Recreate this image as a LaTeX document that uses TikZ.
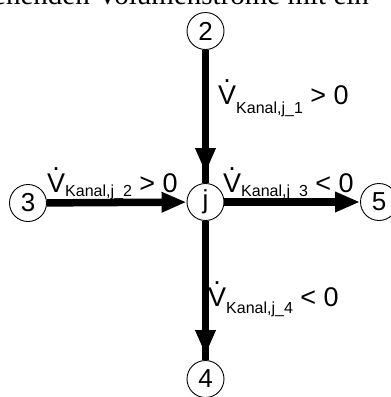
\documentclass[tikz,border=0pt]{standalone}
\usepackage{fontspec}
\setmainfont{Liberation Sans}
\newfontfamily\serifpart{Liberation Serif}
\usetikzlibrary{arrows.meta}
\newcommand\Vd{\ooalign{V\cr\hidewidth\raisebox{0.8em}{.}\hidewidth\cr}}
\newcommand\flowlab[3]{\Vd\raisebox{-#3}{\fontsize{16}{16}\selectfont Kanal,j\_#1} #2 0}
\tikzset{
  pt/.style={circle,draw,line width=0.9pt,minimum size=37pt,inner sep=0pt,font=\fontsize{26}{26}\selectfont},
  pipe/.style={line width=7.5pt},
  pipearrow/.style={line width=7.5pt,-{Triangle[width=19pt,length=25pt]}},
  lab/.style={anchor=base west,inner sep=0pt,font=\fontsize{27}{27}\selectfont},
}
\begin{document}
\begin{tikzpicture}[x=1pt,y=-1pt]
\useasboundingbox (0,0) rectangle (391,397);
\clip (0,0) rectangle (391,397);
% cut-off caption text at the top
\node[anchor=base east,inner sep=0pt,font=\serifpart\fontsize{29}{29}\selectfont] (capa) at (90,4) {ehenden};
\node[anchor=base west,inner sep=0pt,font=\serifpart\fontsize{29}{29}\selectfont] (capb) at (97,4) {Volumenströme mit ein};
% nodes
\node[pt] (n2) at (205.5,31) {2};
\node[pt] (j)  at (205.5,202) {j};
\node[pt] (n3) at (28,203) {3};
\node[pt] (n5) at (379,202) {5};
\node[pt] (n4) at (205.5,379) {4};
% pipes
\draw[pipe] (n2) -- (j);
\draw[pipearrow,shorten >=10pt] (n2) -- (j);
\draw[pipearrow] (n3) -- (j);
\draw[pipearrow] (j) -- (n5);
\draw[pipe] (j) -- (n4);
\draw[pipearrow,shorten >=5pt] (j) -- (n4);
% labels
\node[lab] (l1) at (218,104) {\flowlab{1}{>}{9pt}};
\node[lab] (l2) at (47,192) {\flowlab{2}{>}{4pt}};
\node[lab] (l3) at (223,192) {\flowlab{3}{<}{4pt}};
\node[lab] (l4) at (208,306) {\flowlab{4}{<}{7pt}};
\end{tikzpicture}
\end{document}
